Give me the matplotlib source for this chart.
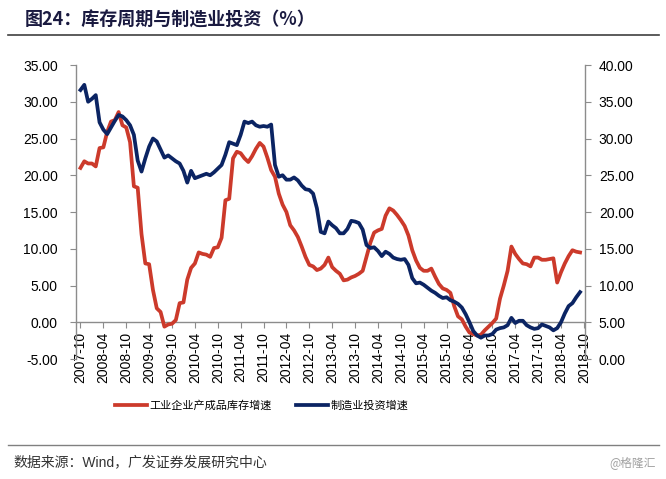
import matplotlib
matplotlib.use("Agg")
import matplotlib.pyplot as plt
from matplotlib.lines import Line2D

plt.rcParams['font.family'] = ['Liberation Sans', 'Noto Sans CJK SC', 'DejaVu Sans']

# ---- data (monthly, starting 2007-10) ----
inventory = [21.0, 21.9, 21.6, 21.6, 21.2, 23.7, 23.8, 25.9, 27.3, 27.5,
             28.6, 26.8, 26.5, 24.5, 18.5, 18.3, 12.0, 8.0, 7.9, 4.4,
             1.9, 1.4, -0.6, -0.3, -0.2, 0.3, 2.6, 2.7, 5.8, 7.4,
             8.0, 9.5, 9.3, 9.2, 8.9, 10.1, 10.2, 11.5, 16.6, 16.8,
             22.3, 23.2, 23.0, 22.3, 21.8, 22.6, 23.6, 24.4, 23.9, 22.4,
             20.7, 19.8, 17.5, 16.0, 15.0, 13.2, 12.5, 11.6, 10.3, 8.9,
             7.8, 7.6, 7.1, 7.3, 7.8, 8.8, 7.5, 7.0, 6.6, 5.7,
             5.8, 6.1, 6.3, 6.6, 7.0, 8.9, 10.8, 12.2, 12.5, 12.7,
             14.5, 15.5, 15.2, 14.6, 13.9, 13.1, 11.8, 9.8, 8.4, 7.4,
             7.0, 7.0, 7.3, 6.2, 5.2, 4.6, 4.4, 4.0, 2.2, 0.8,
             0.4, -0.6, -1.4, -1.6, -1.8, -1.7, -1.1, -0.6, -0.1, 0.5,
             3.2, 5.0, 7.0, 10.3, 9.3, 8.6, 8.0, 7.9, 7.6, 8.8,
             8.8, 8.5, 8.5, 8.6, 8.7, 5.4, 6.8, 8.0, 9.0, 9.8,
             9.6, 9.5]

manufacturing = [36.6, 37.3, 35.0, 35.4, 35.9, 32.2, 31.2, 30.6, 31.5, 32.4,
                 33.2, 33.0, 32.5, 31.8, 30.5, 27.0, 25.5, 27.3, 28.9, 30.0,
                 29.6, 28.5, 27.4, 27.7, 27.3, 26.9, 26.6, 25.6, 24.0, 25.6,
                 24.6, 24.8, 25.0, 25.2, 25.0, 25.4, 25.9, 26.4, 27.8, 29.5,
                 29.3, 29.1, 30.5, 32.3, 32.1, 32.3, 31.8, 31.6, 31.7, 31.6,
                 31.9, 26.4, 24.8, 25.0, 24.4, 24.4, 24.7, 24.3, 23.6, 23.1,
                 23.0, 22.5, 20.5, 17.3, 17.1, 18.7, 18.2, 17.8, 17.1, 17.1,
                 17.7, 18.8, 18.7, 18.5, 17.6, 15.5, 15.1, 15.2, 14.7, 14.0,
                 14.6, 14.3, 13.8, 13.6, 13.5, 13.6, 12.8, 11.0, 10.3, 10.4,
                 10.1, 9.7, 9.3, 9.0, 8.6, 8.3, 8.4, 8.0, 7.8, 7.5,
                 7.0, 6.1, 5.0, 3.8, 3.2, 2.9, 3.2, 3.2, 3.4, 4.0,
                 4.2, 4.3, 4.6, 5.6, 4.9, 5.2, 5.2, 4.6, 4.3, 4.1,
                 4.2, 4.7, 4.5, 4.3, 3.9, 4.2, 5.0, 6.2, 7.2, 7.6,
                 8.4, 9.1]

tick_labels = ['2007-10', '2008-04', '2008-10', '2009-04', '2009-10', '2010-04',
               '2010-10', '2011-04', '2011-10', '2012-04', '2012-10', '2013-04',
               '2013-10', '2014-04', '2014-10', '2015-04', '2015-10', '2016-04',
               '2016-10', '2017-04', '2017-10', '2018-04', '2018-10']

series_names = ['工业企业产成品库存增速', '制造业投资增速']
title_text = '图24：库存周期与制造业投资（%）'
source_text = '数据来源：Wind，广发证券发展研究中心'
watermark = '@格隆汇'

left_ticks = [-5, 0, 5, 10, 15, 20, 25, 30, 35]
right_ticks = [0, 5, 10, 15, 20, 25, 30, 35, 40]

RED = '#CC3A2B'
BLUE = '#0B2463'
GRAY = '#8C8C8C'

fig = plt.figure(figsize=(6.66, 4.79), dpi=100)
ax = fig.add_axes([0.1141, 0.2505, 0.8784 - 0.1141, 0.8643 - 0.2505])
ax2 = ax.twinx()

months = list(range(len(inventory)))
ax.plot(months, inventory, color=RED, lw=2.7, solid_joinstyle='round', zorder=3)
ax2.plot(months, manufacturing, color=BLUE, lw=2.7, solid_joinstyle='round', zorder=3)

ax.set_xlim(-1.18, 132.3)
ax.set_ylim(-5, 35)
ax2.set_ylim(0, 40)

ax.set_yticks(left_ticks)
ax.set_yticklabels(['%.2f' % v for v in left_ticks])
ax2.set_yticks(right_ticks)
ax2.set_yticklabels(['%.2f' % v for v in right_ticks])

ax.set_xticks(list(range(0, 6 * len(tick_labels), 6)))
ax.set_xticklabels(tick_labels)

for a in (ax, ax2):
    a.spines['top'].set_visible(False)
    a.set_facecolor('none')
ax.spines['right'].set_visible(False)
ax2.spines['left'].set_visible(False)
ax2.spines['bottom'].set_visible(False)
ax.spines['left'].set_color(GRAY)
ax2.spines['right'].set_color(GRAY)
ax.spines['bottom'].set_position(('data', 0))
ax.spines['bottom'].set_color(GRAY)
for s in ('left', 'bottom'):
    ax.spines[s].set_linewidth(1.0)
ax2.spines['right'].set_linewidth(1.0)

ax.tick_params(axis='y', direction='out', length=4, color=GRAY, pad=9,
               labelcolor='#000000', labelsize=10)
ax.tick_params(axis='x', direction='out', length=4, color=GRAY, pad=3,
               labelcolor='#000000', labelsize=10, labelrotation=90)
ax2.tick_params(axis='y', direction='out', length=4, color=GRAY, pad=6,
                labelcolor='#000000', labelsize=10)
for lbl in ax.get_xticklabels():
    lbl.set_verticalalignment('top')
    lbl.set_horizontalalignment('center')

# legend
handles = [Line2D([], [], color=RED, lw=2.7), Line2D([], [], color=BLUE, lw=2.7)]
fig.legend(handles, series_names, loc='center', bbox_to_anchor=(0.393, 0.1524),
           ncol=2, frameon=False, handlelength=2.9, handletextpad=0.2, columnspacing=2.2,
           prop={'family': ['Noto Sans CJK SC', 'DejaVu Sans'], 'size': 8})

# title and rules
fig.text(0.037, 0.958, title_text, fontsize=13, fontweight='bold', color='#1a1a40',
         ha='left', va='center', family=['Noto Sans CJK SC', 'DejaVu Sans'])
fig.add_artist(Line2D([0.012, 0.99], [1 - 35 / 479, 1 - 35 / 479], color='#404040', lw=1.2))
fig.add_artist(Line2D([0.012, 0.99], [1 - 445 / 479, 1 - 445 / 479], color='#808080', lw=1.0))

fig.text(0.020, 1 - 462 / 479, source_text, fontsize=10, color='#333333', ha='left', va='center',
         family=['Liberation Sans', 'Noto Sans CJK SC'])
fig.text(0.985, 1 - 463 / 479, watermark, fontsize=8.5, color='#A0A0A0', ha='right', va='center',
         family=['Noto Sans CJK SC', 'DejaVu Sans'])

fig.savefig('out.png', dpi=100)
